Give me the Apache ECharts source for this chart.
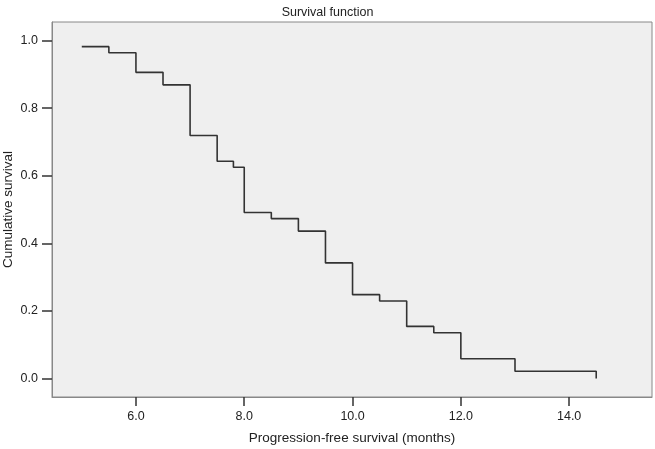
<!DOCTYPE html>
<html>
<head>
<meta charset="utf-8">
<style>
  html, body { margin: 0; padding: 0; background: #fff; }
  #survival { width: 655px; height: 449px; }
</style>
<script src="https://cdn.jsdelivr.net/npm/echarts@6/dist/echarts.min.js"></script>
</head>
<body>
<div id="survival"></div>
<script>
// step points: time (months) and cumulative survival from that time on
var months = [5.0, 5.5, 6.0, 6.5, 7.0, 7.5, 7.8, 8.0, 8.5, 9.0, 9.5, 10.0, 10.5, 11.0, 11.5, 12.0, 13.0, 14.5];
var survival = [0.982, 0.964, 0.906, 0.869, 0.719, 0.643, 0.625, 0.491, 0.473, 0.436, 0.342, 0.248, 0.229, 0.154, 0.135, 0.058, 0.021, 0.0];
var xTicks = [6, 8, 10, 12, 14];
var yTicks = [0, 0.2, 0.4, 0.6, 0.8, 1.0];

var font = 'Liberation Sans, Arial, sans-serif';
var chart = echarts.init(document.getElementById('survival'));

chart.setOption({
  animation: false,
  title: {
    text: 'Survival function',
    left: 'center',
    top: 1,
    textStyle: { fontFamily: font, fontSize: 12.5, fontWeight: 'normal', color: '#222' }
  },
  grid: {
    left: 52, right: 3, top: 22, bottom: 52,
    outerBoundsMode: 'none',
    containLabel: false,
    show: true,
    backgroundColor: '#efefef',
    borderColor: '#888',
    borderWidth: 1
  },
  xAxis: {
    type: 'value',
    min: 4.45,
    max: 15.53,
    name: 'Progression-free survival (months)',
    nameLocation: 'middle',
    nameGap: 34,
    nameMoveOverlap: false,
    nameTextStyle: { fontFamily: font, fontSize: 13.5, color: '#222' },
    axisLine: { show: true, onZero: false, lineStyle: { color: '#888', width: 1 } },
    splitLine: { show: false },
    axisTick: { show: true, length: 9, customValues: xTicks, lineStyle: { color: '#333', width: 1.5 } },
    axisLabel: {
      customValues: xTicks,
      margin: 13,
      fontFamily: font, fontSize: 12.5, color: '#222',
      formatter: function (v) { return v.toFixed(1); }
    }
  },
  yAxis: {
    type: 'value',
    min: -0.055,
    max: 1.055,
    name: 'Cumulative survival',
    nameLocation: 'middle',
    nameGap: 37,
    nameMoveOverlap: false,
    nameTextStyle: { fontFamily: font, fontSize: 13.5, color: '#222' },
    axisLine: { show: true, onZero: false, lineStyle: { color: '#888', width: 1 } },
    splitLine: { show: false },
    axisTick: { show: true, length: 10, customValues: yTicks, lineStyle: { color: '#333', width: 1.5 } },
    axisLabel: {
      customValues: yTicks,
      margin: 14,
      fontFamily: font, fontSize: 12.5, color: '#222',
      formatter: function (v) { return v.toFixed(1); }
    }
  },
  series: [{
    type: 'line',
    step: 'end',
    symbol: 'none',
    lineStyle: { color: '#333', width: 1.6 },
    data: months.map(function (m, i) { return [m, survival[i]]; })
  }]
});
</script>
</body>
</html>
